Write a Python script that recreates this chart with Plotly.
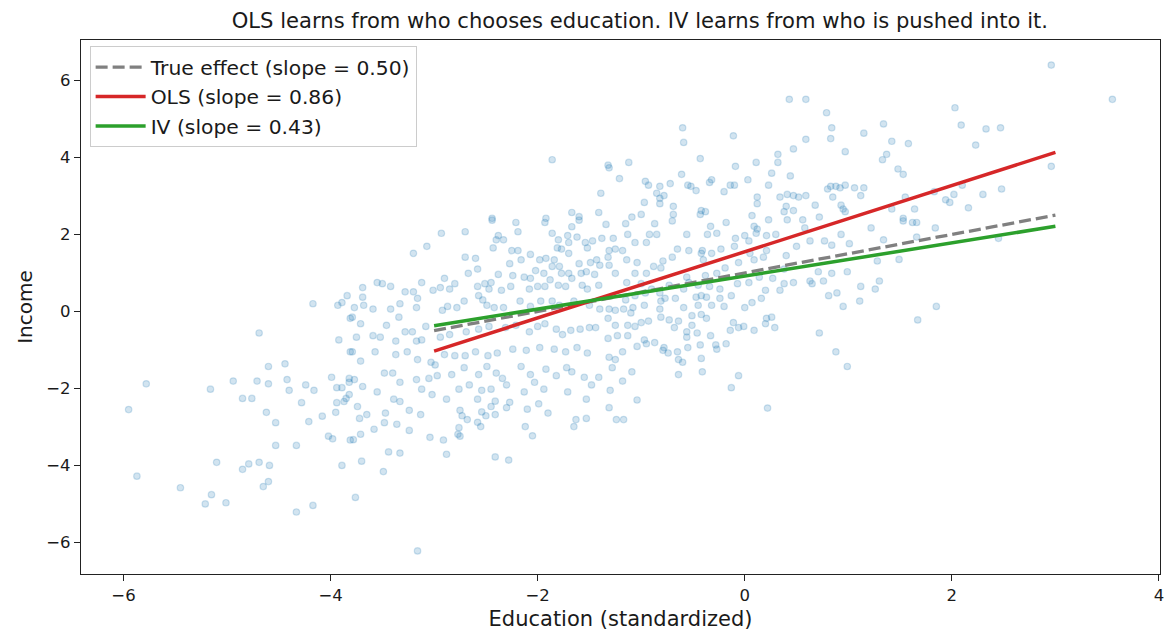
import plotly.graph_objects as go

# ---------------- data ----------------
# scatter points (education, income), read off the picture region by region
edu_top = [-1.86,-1.32,-1.31,-1.21,-1.39,-1.67,-1.60,-1.41,-2.44,-1.92]
inc_top = [3.94,3.80,3.73,3.45,3.07,2.57,2.46,2.57,2.42,2.42]

edu_upper_mid = [0.43,0.59,0.79,0.84,0.83,0.59,1.15,1.34,1.42,1.37,
                 1.33,0.97,0.47,0.32,0.32,0.26,0.44,0.23,0.11,0.03,
                 -0.09,-0.11,-0.60,-0.59,-0.43,-0.61,-1.12,-0.96,-0.93,-0.82,
                 -0.72,-0.55,-0.52,-0.47,-0.34,-0.32,-0.14,-0.10,-0.20,-0.85,
                 -0.82,-0.78,-0.82,-0.97,-0.69,-0.69,-1.00,-0.42,-0.38,-0.43,
                 0.12,0.12,0.07,0.34,0.41,0.47,0.52,0.59,0.40,0.38,
                 0.47,0.68,0.72,0.80,0.83,0.88,0.92,0.97,1.06,1.15,
                 1.12,0.85,0.93,0.95,0.97,-1.09]
inc_upper_mid = [5.51,5.51,5.16,4.77,4.49,4.47,4.63,4.87,4.42,4.08,
                 3.94,4.15,4.22,4.08,3.87,3.59,3.52,3.28,3.87,3.42,
                 3.77,4.56,4.77,4.39,3.97,3.56,3.87,3.38,3.28,3.25,
                 3.32,3.28,3.25,3.14,3.35,3.42,3.28,3.28,3.11,3.07,
                 2.94,3.01,2.80,2.83,2.73,2.52,2.52,2.62,2.59,2.52,
                 2.97,2.80,2.49,2.97,3.04,3.01,2.97,3.01,2.73,2.59,
                 2.62,2.76,2.45,3.18,3.25,3.25,3.21,3.28,3.21,3.21,
                 3.01,2.97,2.76,2.66,2.59,2.45]

edu_upper_right = [2.96,3.55,2.03,2.09,2.33,2.47,2.23,1.58,1.48,1.53,
                   2.96,2.48,2.30,2.10,2.02,1.94,1.98,1.83,1.55,2.16,
                   1.64,1.42,1.53]
inc_upper_right = [6.40,5.51,5.29,4.84,4.74,4.77,4.32,4.36,3.70,3.56,
                   3.77,3.18,3.04,3.28,3.04,2.90,2.83,3.11,2.97,2.69,
                   2.66,2.66,2.42]

edu_left = [-4.17,-3.93,-3.89,-3.84,-3.81,-4.69,-3.92,-3.81,-4.60,-4.44,
            -3.99,-3.82,-3.82,-5.78,-5.16,-4.94,-4.71,-4.60,-4.42,-4.40,
            -4.24,-4.16,-3.94,-3.89,-4.85,-4.76,-3.82,-3.85]
inc_left = [0.20,0.16,0.23,0.41,-0.18,-0.56,-0.74,-1.05,-1.43,-1.36,
            -1.71,-1.74,-1.84,-1.88,-2.02,-1.81,-1.81,-1.88,-1.77,-2.05,
            -1.91,-2.05,-1.98,-1.98,-2.26,-2.26,-2.16,-2.26]

edu_low_left = [-5.95,-5.87,-5.45,-5.21,-5.15,-5.01,-5.10,-4.85,-4.79,-4.69,
                -4.59,-4.60,-4.65,-4.53,-4.33,-4.53,-4.62,-4.28,-4.21,-4.08,
                -3.95,-3.94,-3.87,-4.02,-3.98,-3.81,-3.89,-4.33,-4.17]
inc_low_left = [-2.55,-4.28,-4.58,-5.00,-4.76,-4.97,-3.92,-4.10,-3.96,-3.92,
                -4.00,-4.42,-4.55,-3.48,-3.48,-2.89,-2.62,-2.37,-2.86,-2.72,
                -2.62,-2.37,-2.34,-3.24,-3.31,-3.34,-4.00,-5.21,-5.04]

edu_low_mid = [-3.16,-3.76,-3.49,-3.70,-3.44,-3.33,-2.88,-2.41,-2.28,-3.78,
               -3.71,-3.58,-3.48,-3.36,-3.24,-3.04,-2.91,-2.77,-2.75,-2.76,
               -3.72,-3.65,-3.74,-3.47,-3.24,-3.13,-3.39,-3.33,-2.75,-2.73,
               -2.68,-2.58,-2.55,-2.54,-2.50,-2.45,-2.41,-2.41,-2.30,-2.27,
               -2.10,-2.12,-2.05,-1.99,-1.90,-1.65,-1.63,-1.53,-1.53,-1.31,
               -1.24,-2.58,-2.88]
inc_low_mid = [-6.22,-4.83,-4.16,-3.89,-3.65,-3.68,-3.71,-3.78,-3.86,-3.33,
               -3.19,-3.06,-2.89,-2.93,-3.09,-3.27,-3.34,-3.19,-3.24,-3.02,
               -2.78,-2.68,-2.47,-2.64,-2.57,-2.68,-2.28,-2.34,-2.57,-2.71,
               -2.81,-2.88,-2.99,-2.61,-2.71,-2.47,-2.68,-2.33,-2.50,-2.36,
               -2.54,-2.99,-3.23,-2.40,-2.64,-2.99,-2.81,-2.78,-2.28,-2.50,
               -2.81,-2.28,-2.28]

edu_right = [-1.04,-1.17,0.22,1.49,1.85,1.67,2.45,1.53,1.62,1.66,
             1.84,1.66]
inc_right = [-2.30,-2.81,-2.51,1.35,0.13,-0.22,1.90,2.35,2.31,2.31,
             2.17,1.93]

edu_center_right = [1.22,1.34,1.28,1.30,1.26,1.12,1.11,0.99,1.01,0.93,
                    0.84,0.77,0.71,0.84,0.76,0.81,0.89,0.95,0.72,0.88,
                    0.99,0.63,0.65,0.63,0.58,0.50,0.40,0.47,0.38,0.34,
                    0.29,0.26,0.21,0.20,0.09,-0.01,-0.06,-0.13,-0.11,-0.06,
                    -0.14,0.00,0.07,0.16,0.20,0.14,0.38,0.27,0.04,-0.07,
                    -0.13,-0.20,-0.24,-0.32,-0.42,-0.37,-0.51,-0.46,-0.56,-0.56,
                    -0.33,-0.43,-0.28,-0.27,-0.18,-0.42,-0.55,-0.41,-0.64,-0.60,
                    -0.65,-0.74,-0.79,-0.78,-0.64,-0.87,-0.95,-0.97,-1.04,-1.13,
                    -1.18,-1.09,-1.18,-0.68,-0.64,-0.73,-0.81,-0.93,-1.00,-1.06,
                    -1.13,-0.51,-0.59,-0.45,-0.47,-0.42,-0.37,-0.34,-0.24,-0.19,
                    -0.27,-0.54,-0.59,-0.67,-0.77,-0.82,-0.81,-0.82,-0.97,-1.08,
                    -1.10,-1.17,-1.15,-1.06,-1.00,-0.90,-1.06,-1.14,-0.95,-0.88,
                    -0.79,-0.81,-0.70,-0.65,-0.54,-0.41,-0.42,-0.32,-0.23,-0.10,
                    -0.09,0.00,0.04,0.12,0.11,0.21,0.30,0.21,0.18,0.09,
                    0.05,0.23,0.41,0.56,0.09,-0.18,-0.33,-0.36,-0.27,-0.56,
                    -0.70,-0.87,-0.85,-0.92,-0.95,-1.06,-1.13,-1.15,-1.18,-1.04,
                    -1.14,-0.56,-0.73,-0.38,-0.45,-0.06,-0.40,-0.96]
inc_center_right = [2.17,1.86,1.31,0.79,0.58,0.65,0.27,1.03,1.76,2.00,
                    1.72,1.83,1.03,0.99,0.79,0.41,0.48,0.13,-0.56,-1.05,
                    -1.43,0.79,0.72,1.83,2.17,1.69,1.45,0.75,0.72,0.55,
                    -0.42,-0.15,-0.18,-0.32,-0.49,-0.39,-1.67,-1.98,-0.29,-0.42,
                    -0.49,0.10,0.23,0.34,0.55,0.89,1.10,0.86,0.75,0.72,
                    0.41,0.13,0.34,0.16,-0.08,-0.18,-0.36,-0.56,-0.53,-0.67,
                    -0.63,-0.87,-0.87,-0.98,-0.84,-1.22,-0.94,-1.57,-1.64,-1.32,
                    -1.05,-1.08,-1.01,-0.94,-1.25,-0.81,-0.84,-0.74,-0.91,-0.63,
                    -1.05,-1.57,-1.81,-0.42,-0.25,-0.22,-0.15,-0.25,-0.29,-0.39,
                    -0.36,-0.11,0.10,0.16,0.37,0.41,0.37,0.65,0.58,1.13,
                    0.99,0.75,0.58,0.34,0.34,0.48,0.27,0.06,0.16,0.10,
                    -0.04,0.06,0.30,0.41,0.72,0.58,0.99,0.75,0.99,1.17,
                    1.31,1.13,1.41,1.62,1.58,1.58,1.51,1.51,1.62,1.69,
                    1.90,1.97,1.83,2.14,2.03,1.97,2.00,1.58,1.41,1.34,
                    1.51,2.38,2.38,2.38,2.21,2.31,2.21,2.00,2.03,2.00,
                    2.35,2.28,2.00,2.00,1.79,1.79,2.00,2.28,1.58,1.27,
                    1.34,0.89,0.68,0.93,0.68,1.27,1.34,0.48]

edu_center = [-2.44,-2.21,-1.93,-1.67,-1.60,-1.34,-2.93,-2.70,-2.38,-2.40,
              -2.33,-2.19,-1.86,-1.80,-1.71,-1.70,-1.62,-1.54,-1.47,-1.38,
              -1.27,-1.25,-1.31,-2.43,-2.25,-2.19,-2.07,-1.81,-1.77,-1.70,
              -1.52,-3.20,-3.07,-2.70,-2.60,-2.27,-2.16,-1.98,-1.92,-1.84,
              -1.86,-1.79,-1.60,-1.49,-1.43,-1.40,-1.32,-1.31,-2.67,-2.58,
              -2.38,-2.24,-2.13,-2.07,-2.02,-1.94,-1.88,-1.77,-1.70,-1.67,
              -1.58,-1.53,-1.45,-1.25,-3.12,-3.55,-3.50,-3.42,-3.69,-3.28,
              -3.20,-3.01,-2.94,-2.90,-2.80,-2.85,-2.58,-2.51,-2.45,-2.47,
              -2.35,-2.26,-2.08,-2.00,-1.93,-1.80,-1.73,-1.57,-1.52,-1.41,
              -3.69,-3.68,-3.77,-3.59,-3.42,-3.33,-3.16,-3.17,-2.92,-2.87,
              -2.78,-2.71,-2.57,-2.53,-2.49,-2.42,-2.33,-2.17,-2.07,-1.97,
              -1.86,-1.79,-1.65,-1.50,-1.40,-1.31,-1.25,-3.79,-3.71,-3.46,
              -3.34,-3.28,-3.21,-3.08,-3.75,-3.59,-3.52,-3.37,-3.17,-3.12,
              -2.94,-2.85,-2.69,-2.57,-2.47,-2.31,-2.21,-2.08,-2.00,-1.93,
              -1.82,-1.76,-1.68,-1.59,-1.50,-1.44,-1.32,-1.25,-1.23,-1.32,
              -3.79,-3.57,-3.37,-3.26,-3.16,-3.03,-2.99,-2.90,-2.80,-2.70,
              -2.60,-2.48,-2.39,-2.24,-2.11,-1.98,-1.84,-1.73,-1.62,-1.52,
              -1.31,-1.25,-3.71,-3.48,-3.40,-3.33,-3.17,-3.05,-2.97,-2.83,
              -2.71,-2.57,-2.49,-2.40,-2.34,-2.30,-2.16,-2.07,-2.03,-1.92,
              -1.82,-1.72,-1.67,-1.55,-1.41,-1.28,-3.77,-3.69,-3.55,-3.12,
              -3.02,-2.76,-2.66,-2.54,-2.45,-2.13,-1.94,-1.71,-1.48,-1.30]
inc_center = [2.37,2.31,2.31,2.20,2.37,2.26,2.03,2.07,1.97,1.86,
              1.86,2.07,2.03,1.86,1.97,1.79,1.93,1.79,1.83,1.90,
              1.90,1.62,1.58,1.65,1.58,1.58,1.48,1.65,1.62,1.51,
              1.65,1.51,1.69,1.41,1.38,1.24,1.34,1.34,1.38,1.34,
              1.17,1.17,1.24,1.27,1.34,1.20,1.41,1.20,0.99,1.10,
              0.96,0.93,0.89,0.86,1.06,0.99,0.82,0.99,0.99,0.86,
              0.99,1.03,0.96,0.99,0.75,0.75,0.72,0.65,0.62,0.51,
              0.51,0.55,0.62,0.86,0.72,0.58,0.65,0.72,0.75,0.58,
              0.55,0.65,0.58,0.65,0.65,0.68,0.65,0.68,0.58,0.68,
              0.37,0.16,0.10,0.06,0.06,0.20,0.34,0.10,0.03,0.13,
              0.10,0.27,0.41,0.30,0.16,0.10,0.10,0.27,0.13,0.27,
              0.27,0.16,0.27,0.16,0.06,0.06,0.03,-0.15,-0.32,-0.36,
              -0.15,-0.53,-0.53,-0.39,-0.67,-0.63,-0.67,-0.77,-0.77,-0.74,
              -0.67,-0.60,-0.53,-0.46,-0.39,-0.42,-0.36,-0.53,-0.39,-0.32,
              -0.46,-0.60,-0.49,-0.46,-0.42,-0.42,-0.18,-0.36,-0.63,-0.70,
              -1.05,-1.05,-1.12,-1.05,-1.25,-1.32,-1.39,-1.12,-1.15,-1.15,
              -1.05,-1.15,-1.08,-0.98,-1.01,-0.94,-0.98,-1.05,-0.94,-1.08,
              -1.19,-1.25,-1.29,-1.60,-1.60,-1.84,-1.77,-1.74,-1.67,-1.64,
              -1.46,-1.64,-1.43,-1.60,-1.74,-1.91,-1.43,-1.64,-1.84,-1.50,
              -1.67,-1.46,-1.57,-1.71,-1.71,-1.46,-1.77,-1.95,-2.09,-2.02,
              -2.16,-2.02,-1.91,-2.05,-2.02,-2.09,-2.02,-2.09,-1.91,-2.05]

# fitted lines: y = intercept + slope * x over the education range [-3, 3]
line_x = [-3.0, 3.0]
true_intercept, true_slope = 1.00, 0.50
ols_intercept, ols_slope = 1.55, 0.86
iv_intercept, iv_slope = 0.92, 0.43

tick_x_vals = [-6, -4, -2, 0, 2, 4]
tick_x_text = ["\u22126", "\u22124", "\u22122", "0", "2", "4"]
tick_y_vals = [-6, -4, -2, 0, 2, 4, 6]
tick_y_text = ["\u22126", "\u22124", "\u22122", "0", "2", "4", "6"]

# ---------------- assemble ----------------
groups = [
    (edu_top, inc_top), (edu_upper_mid, inc_upper_mid), (edu_upper_right, inc_upper_right),
    (edu_left, inc_left), (edu_low_left, inc_low_left), (edu_low_mid, inc_low_mid),
    (edu_right, inc_right), (edu_center_right, inc_center_right), (edu_center, inc_center),
]
xs, ys = [], []
for gx, gy in groups:
    n = min(len(gx), len(gy))
    xs.extend(gx[:n])
    ys.extend(gy[:n])

def line_y(a, b):
    return [a + b * v for v in line_x]

FONT = "DejaVu Sans, Verdana, sans-serif"
TXT = "#1a1a1a"
fig = go.Figure()
fig.add_trace(go.Scatter(
    x=xs, y=ys, mode="markers", showlegend=False, hoverinfo="skip",
    marker=dict(size=6.5, color="rgba(31,119,180,0.2)",
                line=dict(width=1.2, color="rgba(31,119,180,0.2)")),
))
fig.add_trace(go.Scatter(
    x=line_x, y=line_y(true_intercept, true_slope), mode="lines",
    name="True effect (slope = 0.50)",
    line=dict(color="#808080", width=3.3, dash="12px,5px"),
))
fig.add_trace(go.Scatter(
    x=line_x, y=line_y(ols_intercept, ols_slope), mode="lines",
    name="OLS (slope = 0.86)", line=dict(color="#d62728", width=3.5),
))
fig.add_trace(go.Scatter(
    x=line_x, y=line_y(iv_intercept, iv_slope), mode="lines",
    name="IV (slope = 0.43)", line=dict(color="#2ca02c", width=3.5),
))

axis_common = dict(
    showgrid=False, zeroline=False, showline=True, mirror=True,
    linecolor="#222", linewidth=1.3, ticks="outside", ticklen=6, tickwidth=1.2,
    tickcolor="#222", tickfont=dict(family=FONT, size=16.5, color=TXT),
)
fig.update_layout(
    width=1176, height=644,
    margin=dict(l=81, r=14, t=40, b=70),
    paper_bgcolor="white", plot_bgcolor="white",
    font=dict(family=FONT, color=TXT),
    title=dict(text="OLS learns from who chooses education. IV learns from who is pushed into it.",
               x=0.518, xref="paper", xanchor="center",
               y=1 - 21 / 644, yref="container", yanchor="middle",
               font=dict(family=FONT, size=21.1, color=TXT)),
    xaxis=dict(range=[-6.41, 4.01], tickvals=tick_x_vals, ticktext=tick_x_text,
               title=dict(text="Education (standardized)", font=dict(family=FONT, size=21, color=TXT), standoff=7),
               **axis_common),
    yaxis=dict(range=[-6.82, 7.05], tickvals=tick_y_vals, ticktext=tick_y_text,
               title=dict(text="Income", font=dict(family=FONT, size=20, color=TXT), standoff=8),
               **axis_common),
    legend=dict(x=0.008, y=0.988, xanchor="left", yanchor="top",
                bgcolor="rgba(255,255,255,0.85)", bordercolor="#cccccc", borderwidth=1,
                font=dict(family=FONT, size=20.3, color=TXT), tracegroupgap=0,
                itemwidth=50),
)

fig.write_html("out.html")
